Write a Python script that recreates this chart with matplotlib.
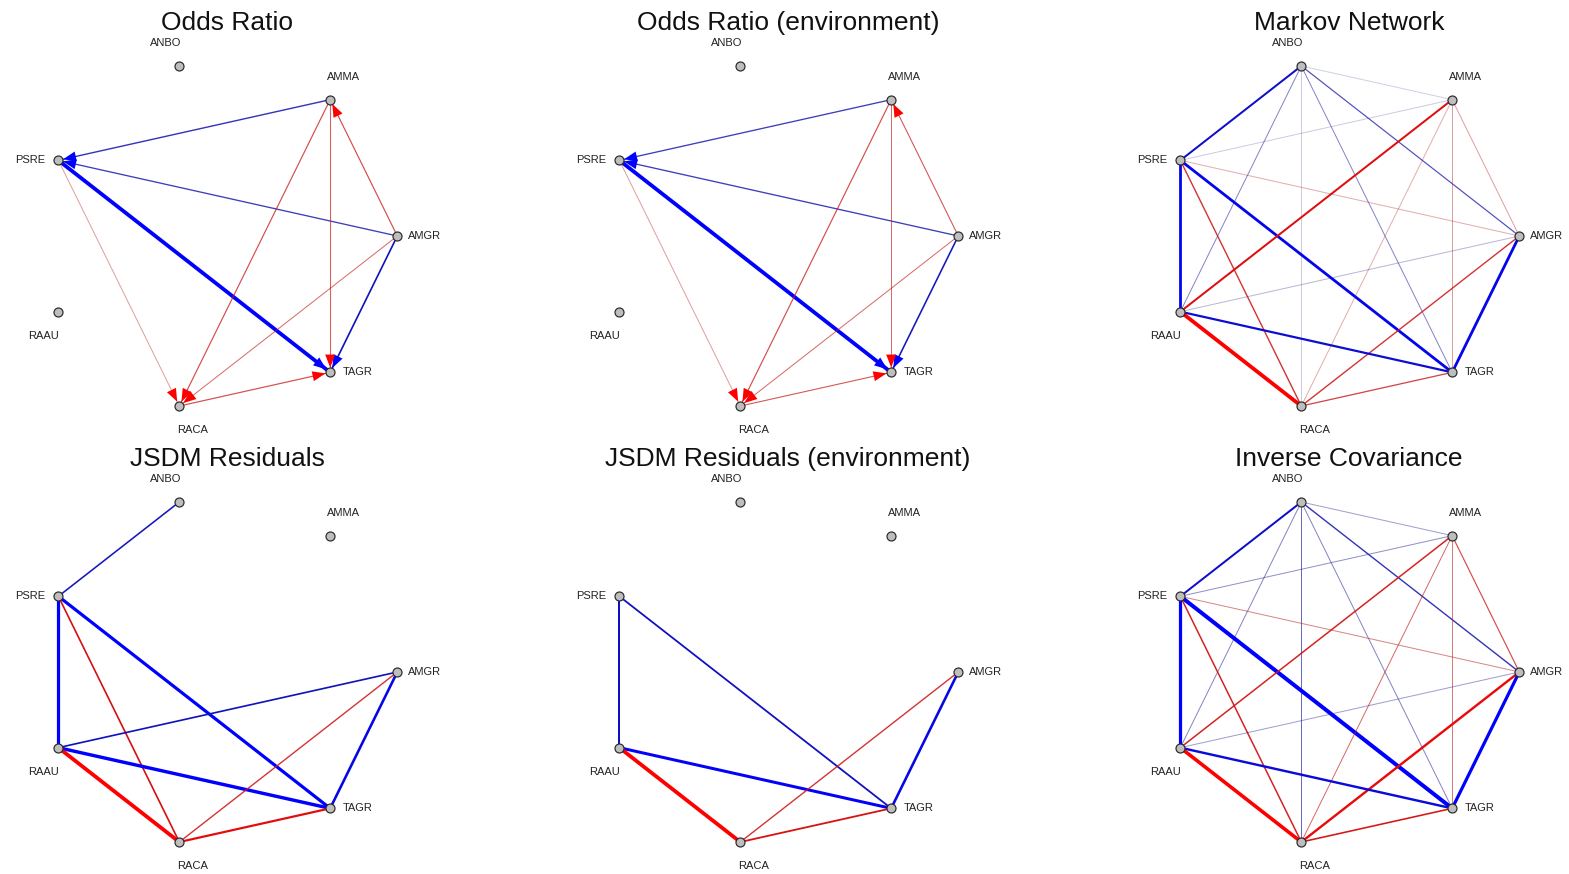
import numpy as np
import matplotlib
matplotlib.use("Agg")
import matplotlib.pyplot as plt
from matplotlib.patches import FancyArrowPatch, ArrowStyle

plt.rcParams["font.family"] = ["Liberation Sans", "DejaVu Sans"]

# Species, placed counter-clockwise on a circle starting from the right
species = ["AMGR", "AMMA", "ANBO", "PSRE", "RAAU", "RACA", "TAGR"]

# Signed association strengths (positive = red, negative = blue)
odds_ratio = [
    ("AMMA", "PSRE", -0.35), ("AMGR", "PSRE", -0.33), ("PSRE", "TAGR", -0.95),
    ("AMGR", "TAGR", -0.42), ("AMGR", "AMMA", 0.30), ("AMMA", "TAGR", 0.27),
    ("AMMA", "RACA", 0.30), ("AMGR", "RACA", 0.25), ("PSRE", "RACA", 0.15),
    ("RACA", "TAGR", 0.30),
]
odds_ratio_env = [
    ("AMMA", "PSRE", -0.33), ("AMGR", "PSRE", -0.33), ("PSRE", "TAGR", -0.95),
    ("AMGR", "TAGR", -0.40), ("AMGR", "AMMA", 0.28), ("AMMA", "TAGR", 0.25),
    ("AMMA", "RACA", 0.30), ("AMGR", "RACA", 0.25), ("PSRE", "RACA", 0.15),
    ("RACA", "TAGR", 0.28),
]
markov = [
    ("ANBO", "PSRE", -0.50), ("ANBO", "AMMA", -0.05), ("ANBO", "AMGR", -0.30),
    ("ANBO", "TAGR", -0.20), ("ANBO", "RACA", -0.06), ("ANBO", "RAAU", -0.20),
    ("PSRE", "AMMA", -0.06), ("PSRE", "AMGR", 0.12), ("PSRE", "TAGR", -0.70),
    ("PSRE", "RACA", 0.35), ("PSRE", "RAAU", -0.70), ("AMMA", "RAAU", 0.50),
    ("AMMA", "RACA", 0.12), ("AMMA", "TAGR", 0.15), ("AMMA", "AMGR", 0.15),
    ("AMGR", "RAAU", -0.10), ("AMGR", "RACA", 0.35), ("AMGR", "TAGR", -0.70),
    ("TAGR", "RAAU", -0.55), ("TAGR", "RACA", 0.32), ("RACA", "RAAU", 0.95),
]
jsdm = [
    ("ANBO", "PSRE", -0.40), ("PSRE", "RAAU", -0.80), ("PSRE", "TAGR", -0.80),
    ("PSRE", "RACA", 0.42), ("RAAU", "AMGR", -0.42), ("RAAU", "TAGR", -0.85),
    ("RAAU", "RACA", 0.95), ("RACA", "TAGR", 0.55), ("RACA", "AMGR", 0.35),
    ("AMGR", "TAGR", -0.65),
]
jsdm_env = [
    ("PSRE", "RAAU", -0.50), ("PSRE", "TAGR", -0.45), ("RAAU", "TAGR", -0.75),
    ("RAAU", "RACA", 0.95), ("RACA", "TAGR", 0.45), ("RACA", "AMGR", 0.35),
    ("AMGR", "TAGR", -0.65),
]
inv_cov = [
    ("ANBO", "PSRE", -0.50), ("ANBO", "AMMA", -0.15), ("ANBO", "AMGR", -0.35),
    ("ANBO", "TAGR", -0.20), ("ANBO", "RACA", -0.25), ("ANBO", "RAAU", -0.20),
    ("PSRE", "AMMA", -0.18), ("PSRE", "AMGR", 0.20), ("PSRE", "TAGR", -1.00),
    ("PSRE", "RACA", 0.38), ("PSRE", "RAAU", -0.80), ("AMMA", "RAAU", 0.38),
    ("AMMA", "RACA", 0.25), ("AMMA", "TAGR", 0.22), ("AMMA", "AMGR", 0.30),
    ("AMGR", "RAAU", -0.15), ("AMGR", "RACA", 0.60), ("AMGR", "TAGR", -0.80),
    ("TAGR", "RAAU", -0.60), ("TAGR", "RACA", 0.40), ("RACA", "RAAU", 0.90),
]

panels = [
    ("Odds Ratio", odds_ratio, True),
    ("Odds Ratio (environment)", odds_ratio_env, True),
    ("Markov Network", markov, False),
    ("JSDM Residuals", jsdm, False),
    ("JSDM Residuals (environment)", jsdm_env, False),
    ("Inverse Covariance", inv_cov, False),
]

W, H, DPI = 1569, 874, 100
PX = 72.0 / DPI  # points per pixel
fig = plt.figure(figsize=(W / DPI, H / DPI), dpi=DPI)

angles = 2 * np.pi * np.arange(len(species)) / len(species)
pos = {s: (np.cos(a), np.sin(a)) for s, a in zip(species, angles)}

# label placement around each vertex (pixels, y up)
label_offset = {
    "ANBO": (-14, 23), "AMMA": (13, 23), "AMGR": (27, 0), "TAGR": (28, 0),
    "RACA": (13, -24), "RAAU": (-15, -24), "PSRE": (-28, 0),
}

pure = {1: np.array([1.0, 0.0, 0.0]), -1: np.array([0.0, 0.0, 1.0])}
muted = {1: np.array([0.65, 0.15, 0.15]), -1: np.array([0.15, 0.15, 0.45])}


def edge_style(w):
    sign = 1 if w > 0 else -1
    t = min(1.0, abs(w) / 0.8)
    rgb = (1 - t) * muted[sign] + t * pure[sign]
    alpha = min(1.0, 0.1 + 2.2 * abs(w))
    lw = max(1.0, 4.0 * abs(w)) * PX
    return tuple(rgb), alpha, lw, tuple(pure[sign])


rx, ry = 178.3, 174.4
lim = 1.12
for i, (title, edges, directed) in enumerate(panels):
    r, c = divmod(i, 3)
    cx = 219 + 561 * c
    cy = 236 + 436 * r
    ax = fig.add_axes([(cx - lim * rx) / W, 1 - (cy + lim * ry) / H,
                       2 * lim * rx / W, 2 * lim * ry / H])
    ax.set_xlim(-lim, lim)
    ax.set_ylim(-lim, lim)
    ax.axis("off")

    for a, b, w in edges:
        (x0, y0), (x1, y1) = pos[a], pos[b]
        col, alpha, lw, head_col = edge_style(w)
        ax.plot([x0, x1], [y0, y1], color=col, lw=lw, alpha=alpha,
                solid_capstyle="butt", zorder=1)
        if directed:
            head = FancyArrowPatch(
                pos[a], pos[b],
                arrowstyle=ArrowStyle("-|>", head_length=13 * PX, head_width=5 * PX),
                mutation_scale=1, shrinkA=0, shrinkB=4.8 * PX,
                lw=0, color=head_col, zorder=2)
            ax.add_patch(head)

    xs = [pos[s][0] for s in species]
    ys = [pos[s][1] for s in species]
    ax.scatter(xs, ys, s=(9 * PX) ** 2, c="#BEBEBE", edgecolors="#2A2A2A",
               linewidths=1.2 * PX, zorder=3, clip_on=False)
    for s in species:
        dx, dy = label_offset[s]
        ax.annotate(s, pos[s], xytext=(dx * PX, dy * PX), textcoords="offset points",
                    ha="center", va="center", fontsize=8, color="#222222",
                    annotation_clip=False)

    fig.text((cx + 8) / W, 1 - (30 + 436 * r) / H, title, ha="center",
             va="baseline", fontsize=19, color="#111111")

fig.savefig("out.png", dpi=DPI, facecolor="white")
